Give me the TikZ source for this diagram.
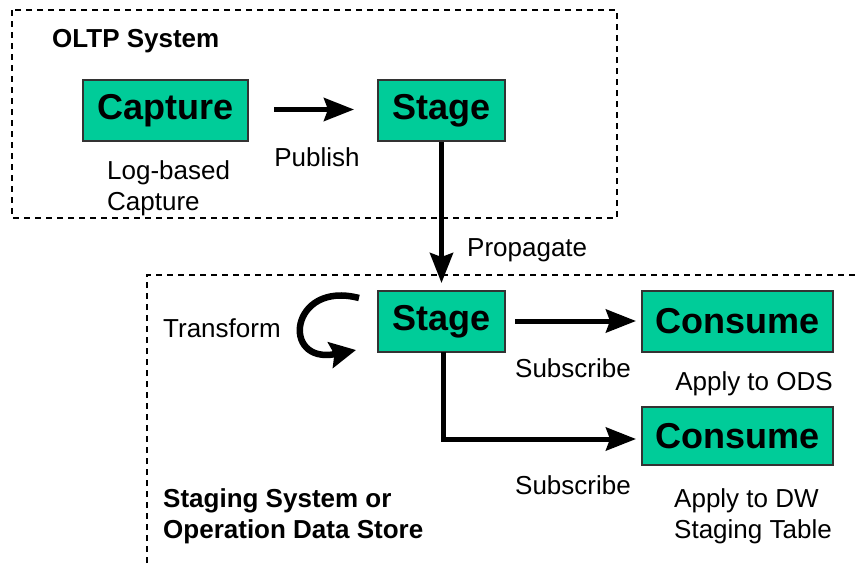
\documentclass[tikz,border=0pt]{standalone}
\usepackage{fontspec}
\setmainfont{Liberation Sans}
\usetikzlibrary{arrows.meta}
\definecolor{boxgreen}{RGB}{0,204,153}
\tikzset{
  procbox/.style={draw=black!80, line width=1.5pt, fill=boxgreen, inner sep=0pt,
    font=\fontsize{36}{40}\selectfont\bfseries},
  lbl/.style={font=\fontsize{26}{31}\selectfont, inner sep=0pt},
  blbl/.style={font=\fontsize{26}{31}\selectfont\bfseries, inner sep=0pt},
  flow/.style={line width=5pt, -{Stealth[length=30pt,width=23pt,inset=4pt]}},
  region/.style={dashed, line width=1.5pt, dash pattern=on 6pt off 5pt}
}
\begin{document}
\begin{tikzpicture}[x=1pt,y=-1pt]
\useasboundingbox (0,0) rectangle (856,563);

% dashed system boundaries
\draw[region] (12,10) rectangle (617,218);
\draw[region] (147,563) -- (147,275) -- (856,275);

% OLTP side
\node[blbl, anchor=west] (oltp) at (52,41) {OLTP System};
\node[procbox, minimum width=165pt, minimum height=61pt] (capture) at (165.5,110.5) {Capture};
\node[procbox, minimum width=127pt, minimum height=61pt] (stage1) at (441.5,110.5) {Stage};
\node[lbl, anchor=west, align=left] (logcap) at (107,188) {Log-based\\Capture};
\node[lbl] (publish) at (317,157) {Publish};
\coordinate (pubA) at (274,109.5);
\coordinate (pubB) at (354,109.5);
\draw[flow] (pubA) -- (pubB);

% propagation
\coordinate (propB) at (441.5,283);
\draw[flow] (stage1.south) -- (propB);
\node[lbl, anchor=west] (propagate) at (467,250) {Propagate};

% staging side
\node[procbox, minimum width=127pt, minimum height=61pt] (stage2) at (441.5,321.5) {Stage};
\node[procbox, minimum width=191pt, minimum height=61pt] (consume1) at (737.5,321.5) {Consume};
\node[procbox, minimum width=191pt, minimum height=58pt] (consume2) at (737.5,436) {Consume};

\node[lbl, anchor=west] (transform) at (163,328) {Transform};
\coordinate (trA) at (359,298);
\coordinate (trB) at (356,350);
\draw[line width=6.5pt, -{Stealth[length=26pt,width=26pt,inset=4pt]}]
  (trA) .. controls (290,280) and (280,365) .. (trB);

\coordinate (subA) at (515,321);
\coordinate (subB) at (636,321);
\draw[flow] (subA) -- (subB);
\node[lbl] (sub1) at (573,368) {Subscribe};
\node[lbl] (ods) at (754,384) {Apply to ODS};

\coordinate (bend) at (443,439);
\coordinate (subC) at (636,439);
\draw[flow] (443,352) -- (bend) -- (subC);
\node[lbl] (sub2) at (573,485) {Subscribe};
\node[lbl, anchor=west, align=left] (dw) at (674,516) {Apply to DW\\Staging Table};

\node[blbl, anchor=west, align=left] (staging) at (163,516) {Staging System or\\Operation Data Store};
\end{tikzpicture}
\end{document}
